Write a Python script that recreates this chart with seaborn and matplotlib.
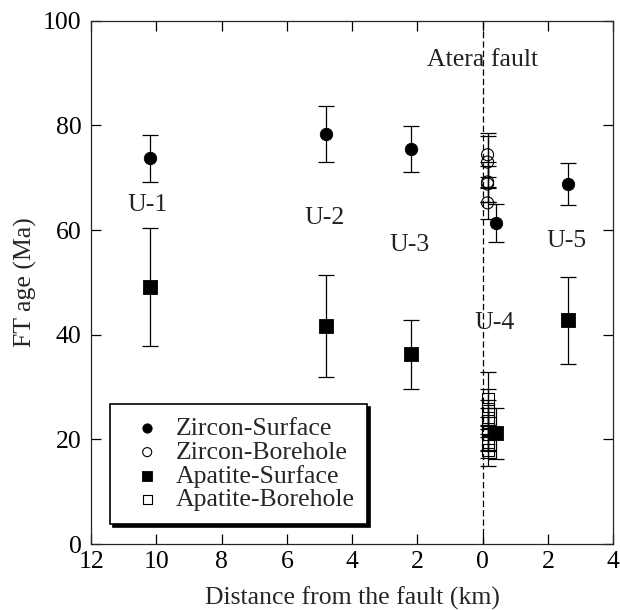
import numpy as np
import pandas as pd
import matplotlib
matplotlib.use("Agg")
import matplotlib.pyplot as plt
import seaborn as sns

# ===============================
# Data (x < 0 : west of the fault)
# ===============================
zr_surf_x = [-10.2, -4.8, -2.2, 0.4, 2.6]
zr_surf_age = [73.7, 78.4, 75.5, 61.4, 68.8]
zr_surf_err = [4.5, 5.4, 4.4, 3.6, 4.0]

zr_bore_x = [0.15, 0.15, 0.15, 0.15, 0.15]
zr_bore_age = [74.4, 73.0, 69.2, 68.8, 65.2]
zr_bore_err = [4.2, 5.0, 3.8, 3.5, 3.1]

ap_surf_x = [-10.2, -4.8, -2.2, 0.4, 2.6]
ap_surf_age = [49.1, 41.7, 36.3, 21.2, 42.8]
ap_surf_err = [11.3, 9.8, 6.6, 4.9, 8.3]

ap_bore_x = [0.15, 0.15, 0.15, 0.15, 0.15, 0.15, 0.15]
ap_bore_age = [27.8, 25.8, 24.0, 22.0, 21.0, 19.5, 18.0]
ap_bore_err = [5.1, 3.8, 3.5, 4.0, 3.2, 3.0, 3.1]

unit_names = ["U-1", "U-2", "U-3", "U-4", "U-5"]
unit_x = [-10.28, -4.85, -2.24, 0.37, 2.58]
unit_y = [64.8, 62.3, 57.2, 42.3, 58.0]

x_ticks = [-12, -10, -8, -6, -4, -2, 0, 2, 4]
x_tick_labels = ["12", "10", "8", "6", "4", "2", "0", "2", "4"]
y_ticks = [0, 20, 40, 60, 80, 100]

# ===============================
# Style
# ===============================
sns.set_style("ticks")
plt.rcParams['font.family'] = ['Liberation Serif', 'DejaVu Serif']
plt.rcParams['font.size'] = 18.5

fig = plt.figure(figsize=(6.2, 6.1), dpi=100)
ax = fig.add_axes([0.147, 0.108, 0.842, 0.858])

# fault line
ax.axvline(0, color='black', lw=0.9, ls=(0, (5, 2.5)), zorder=1)

# error bars
eb_kw = dict(fmt='none', ecolor='black', elinewidth=0.9, capsize=5.5, capthick=0.9, zorder=2)
ax.errorbar(zr_surf_x, zr_surf_age, yerr=zr_surf_err, **eb_kw)
ax.errorbar(zr_bore_x, zr_bore_age, yerr=zr_bore_err, **eb_kw)
ax.errorbar(ap_surf_x, ap_surf_age, yerr=ap_surf_err, **eb_kw)
ax.errorbar(ap_bore_x, ap_bore_age, yerr=ap_bore_err, **eb_kw)

# points
sns.scatterplot(x=zr_surf_x, y=zr_surf_age, ax=ax, marker='o', s=80, color='black',
                edgecolor='black', linewidth=0.6, label='Zircon-Surface', zorder=3)
sns.scatterplot(x=zr_bore_x, y=zr_bore_age, ax=ax, marker='o', s=75, color='none',
                edgecolor='black', linewidth=0.8, label='Zircon-Borehole', zorder=3)
sns.scatterplot(x=ap_surf_x, y=ap_surf_age, ax=ax, marker='s', s=95, color='black',
                edgecolor='black', linewidth=0.6, label='Apatite-Surface', zorder=3)
sns.scatterplot(x=ap_bore_x, y=ap_bore_age, ax=ax, marker='s', s=75, color='none',
                edgecolor='black', linewidth=0.8, label='Apatite-Borehole', zorder=3)

# unit labels
for name, ux, uy in zip(unit_names, unit_x, unit_y):
    ax.text(ux, uy, name, ha='center', va='center', color='#222222')
ax.text(0, 92.5, 'Atera fault', ha='center', va='center', color='#222222')

# axes
ax.set_xlim(-12, 4)
ax.set_ylim(0, 100)
ax.set_xticks(x_ticks)
ax.set_xticklabels(x_tick_labels)
ax.set_yticks(y_ticks)
ax.tick_params(direction='in', length=7, width=0.9, top=True, right=True, colors='black')
ax.tick_params(axis='y', pad=7)
ax.tick_params(axis='x', pad=5)
for sp in ax.spines.values():
    sp.set_linewidth(0.9)
    sp.set_visible(True)
ax.set_xlabel('Distance from the fault (km)', labelpad=10)
ax.set_ylabel('FT age (Ma)', labelpad=4)

leg = ax.legend(loc='lower left', bbox_to_anchor=(0.036, 0.038), borderaxespad=0,
                frameon=True, fancybox=False, shadow={'color': 'black', 'alpha': 1},
                edgecolor='black', framealpha=1, markerscale=0.75,
                handlelength=1.9, handletextpad=0.15, borderpad=0.5, labelspacing=0.03)
leg.get_frame().set_linewidth(1.2)

plt.savefig('out.png', dpi=100)
plt.close()
